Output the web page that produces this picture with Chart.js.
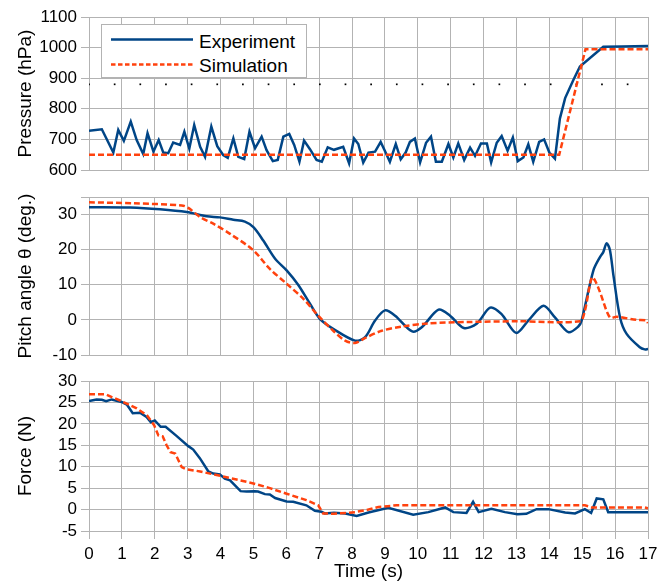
<!DOCTYPE html>
<html>
<head>
<meta charset="utf-8">
<script src="https://cdn.jsdelivr.net/npm/chart.js@4.4.1/dist/chart.umd.min.js"></script>
<style>
    html, body { margin: 0; padding: 0; background: #fff; }
    #wrap { position: relative; width: 670px; height: 587px; font-family: "Liberation Sans", Arial, sans-serif; }
    .panel { position: absolute; left: 0; width: 670px; }
    #legend {
        position: absolute; left: 101px; top: 24px; width: 206px; height: 54px;
        box-sizing: border-box; border: 1px solid #b3b3b3; background: #fff;
    }
    #legend svg { position: absolute; left: 0; top: 0; }
    #legend span { position: absolute; left: 97px; font-size: 19px; line-height: 22px; color: #000; white-space: nowrap; }
</style>
</head>
<body>
<div id="wrap">
    <div class="panel" style="top:0;height:185px"><canvas id="pressureChart" width="670" height="185"></canvas></div>
    <div class="panel" style="top:185px;height:180px"><canvas id="pitchChart" width="670" height="180"></canvas></div>
    <div class="panel" style="top:365px;height:222px"><canvas id="forceChart" width="670" height="222"></canvas></div>
    <div id="legend">
        <svg width="100" height="54">
            <line x1="9" y1="14.5" x2="91" y2="14.5" stroke="#004586" stroke-width="2.5"></line>
            <line x1="9" y1="39.5" x2="91" y2="39.5" stroke="#ff420e" stroke-width="2.5" stroke-dasharray="4.5 2.5"></line>
        </svg>
        <span style="top:6px">Experiment</span>
        <span style="top:30px">Simulation</span>
    </div>
</div>
<script>
// ================================
// DATA  ([time s, value])
// ================================

const timeTicks = [0, 1, 2, 3, 4, 5, 6, 7, 8, 9, 10, 11, 12, 13, 14, 15, 16, 17];

const pressureTicks = [600, 700, 800, 900, 1000, 1100];
const pitchTicks = [-10, 0, 10, 20, 30, 35];
const forceTicks = [-5, 0, 5, 10, 15, 20, 25, 30];

const pressureExp = [
    [0, 728], [0.39, 733], [0.74, 657], [0.89, 731], [1.06, 695], [1.27, 758], [1.45, 698],
    [1.65, 652], [1.78, 720], [1.96, 660], [2.12, 698], [2.26, 657], [2.41, 655], [2.56, 690],
    [2.77, 682], [2.9, 725], [3.05, 670], [3.2, 747], [3.38, 676], [3.53, 643], [3.72, 742],
    [3.9, 678], [4.08, 649], [4.22, 640], [4.39, 703], [4.54, 643], [4.72, 636], [4.88, 725],
    [5.05, 671], [5.25, 709], [5.4, 665], [5.59, 629], [5.74, 633], [5.91, 709], [6.09, 718],
    [6.24, 682], [6.4, 627], [6.54, 696], [6.72, 668], [6.92, 633], [7.08, 627], [7.26, 674],
    [7.45, 666], [7.73, 676], [7.91, 622], [8.06, 703], [8.19, 685], [8.34, 624], [8.5, 657],
    [8.7, 660], [8.87, 692], [9.0, 662], [9.15, 627], [9.33, 685], [9.48, 635], [9.63, 657],
    [9.76, 692], [9.91, 703], [10.07, 625], [10.25, 689], [10.4, 709], [10.55, 627], [10.73, 627],
    [10.93, 685], [11.08, 641], [11.23, 687], [11.41, 633], [11.59, 673], [11.74, 646], [11.92, 687],
    [12.1, 687], [12.23, 625], [12.4, 689], [12.55, 711], [12.73, 663], [12.89, 706], [13.04, 629],
    [13.21, 641], [13.36, 684], [13.51, 627], [13.69, 692], [13.84, 700], [14.0, 657], [14.17, 637],
    [14.32, 768], [14.48, 835], [14.73, 894], [14.93, 938], [15.64, 1003], [16.2, 1004], [17.0, 1005],
];
const pressureSim = [[0, 650], [14.3, 650], [15.1, 995], [17, 995]];
const pressureMarks = [
    [0, 880], [0.78, 880], [1.56, 880], [2.34, 880], [3.12, 880], [3.9, 880], [4.68, 880], [5.46, 880],
    [6.24, 880], [7.02, 880], [7.8, 880], [8.58, 880], [9.36, 880], [10.14, 880], [10.92, 880],
    [11.7, 880], [12.48, 880], [13.26, 880], [14.04, 880], [14.82, 880], [15.6, 880], [16.38, 880],
];

const pitchExp = [
    [0, 32.1], [1.25, 32.0], [2.16, 31.5], [2.97, 30.7], [3.58, 29.5], [3.98, 29.2], [4.39, 28.5],
    [4.74, 28.0], [5.0, 26.4], [5.3, 22.6], [5.66, 17.4], [6.01, 14.1], [6.36, 10.0], [6.72, 4.6],
    [7.02, 0.3], [7.45, -2.7], [8.09, -5.9], [8.39, -5.0], [8.7, -0.2], [9.0, 2.7], [9.31, 1.2],
    [9.83, -3.3], [10.12, -2.1], [10.63, 2.9], [10.98, 1.2], [11.4, -2.3], [11.79, -1.1], [12.2, 3.5],
    [12.54, 1.7], [12.99, -3.7], [13.36, -0.2], [13.82, 4.0], [14.17, 0.7], [14.58, -3.5],
    [14.88, -1.9], [14.98, -0.2], [15.34, 14.1], [15.54, 17.9], [15.64, 19.3], [15.74, 21.8],
    [15.84, 20.0], [15.95, 12.6], [16.15, 0.7], [16.35, -4.0], [16.75, -7.8], [16.9, -8.4], [17.0, -8.3],
];
const pitchSim = [
    [0, 33.5], [1.35, 33.2], [2.82, 32.6], [3.02, 31.9], [3.38, 29.3], [3.78, 27.4], [4.29, 24.5],
    [5.0, 19.8], [5.5, 14.5], [6.01, 10.3], [6.52, 6.0], [6.97, 1.2], [7.45, -3.3], [7.79, -5.9],
    [8.09, -6.6], [8.39, -5.2], [8.9, -3.1], [9.51, -1.9], [10.32, -1.0], [11.54, -0.6], [13.06, -0.4],
    [14.93, -0.4], [15.07, 2.2], [15.29, 12.1], [15.39, 11.2], [15.54, 7.9], [15.84, 0.7], [16.05, 0.9],
    [16.65, 0], [16.96, -0.2], [17.0, -0.9],
];

const forceExp = [
    [0, 25.3], [0.23, 25.7], [0.39, 25.6], [0.52, 25.3], [0.69, 25.7], [0.99, 25.1], [1.15, 24.5],
    [1.33, 22.5], [1.55, 22.6], [1.75, 21.6], [1.88, 20.4], [2.0, 20.8], [2.18, 19.3], [2.33, 19.3],
    [2.66, 17.2], [3.02, 14.8], [3.17, 14.0], [3.37, 12.0], [3.63, 8.9], [3.78, 8.4], [3.98, 8.2],
    [4.13, 7.2], [4.29, 6.8], [4.61, 4.3], [4.79, 4.2], [5.04, 4.3], [5.14, 4.2], [5.35, 3.6],
    [5.5, 3.5], [5.66, 2.7], [6.01, 1.9], [6.21, 1.8], [6.61, 1.0], [6.87, -0.3], [7.07, -0.5],
    [7.17, -0.9], [7.45, -0.75], [7.79, -0.9], [8.14, -1.5], [8.5, -0.7], [9.1, 0.4], [9.86, -1.2],
    [10.32, -0.6], [10.83, 0.5], [11.08, -0.6], [11.48, -0.8], [11.68, 1.8], [11.85, -0.6],
    [12.24, 0.2], [12.65, -0.6], [13.03, -1.1], [13.3, -1.0], [13.61, 0.1], [13.97, 0.1],
    [14.48, -0.7], [14.78, -0.9], [15.08, 0.1], [15.27, -0.8], [15.44, 2.6], [15.64, 2.4],
    [15.79, -0.6], [17.0, -0.6],
];
const forceSim = [
    [0, 26.9], [0.51, 26.9], [0.74, 26.1], [0.99, 25.3], [1.45, 23.6], [1.76, 22.0], [1.98, 19.7],
    [2.11, 17.3], [2.24, 17.1], [2.36, 15.0], [2.48, 13.4], [2.62, 13.1], [2.82, 9.9], [2.96, 9.4],
    [3.38, 8.9], [4.03, 7.8], [5.0, 6.1], [5.5, 5.0], [6.01, 3.7], [6.61, 2.2], [6.97, 1.0],
    [7.12, -0.9], [7.45, -1.0], [8.09, -0.6], [8.5, 0.0], [8.8, 0.6], [9.36, 1.0], [15.08, 1.0],
    [15.29, 0.5], [16.9, 0.5], [17.0, 0.3],
];

// ================================
// STYLE
// ================================

const GRID = "#b3b3b3";
const BLUE = "#004586";
const ORANGE = "#ff420e";

const toXY = (pairs) => pairs.map(([x, y]) => ({ x: x, y: y }));

function expSet(pairs, tension) {
    return {
        data: toXY(pairs),
        borderColor: BLUE,
        borderWidth: 2.5,
        pointRadius: 0,
        tension: tension,
        order: 1,
    };
}

function simSet(pairs, tension) {
    return {
        data: toXY(pairs),
        borderColor: ORANGE,
        borderWidth: 2.5,
        borderDash: [6, 3],
        pointRadius: 0,
        tension: tension,
        order: 0,
    };
}

function makePanel(id, datasets, yMin, yMax, yTicks, hiddenTicks, yTitle, padTop, xHeight, showTime) {
    new Chart(document.getElementById(id), {
        type: "line",
        data: { datasets: datasets },
        options: {
            responsive: false,
            animation: false,
            devicePixelRatio: 1,
            layout: { padding: { top: padTop, right: 22, left: 0, bottom: 0 } },
            plugins: { legend: { display: false }, tooltip: { enabled: false } },
            scales: {
                x: {
                    type: "linear",
                    min: 0,
                    max: 17,
                    afterBuildTicks: (scale) => {
                        scale.ticks = timeTicks.map((v) => ({ value: v }));
                    },
                    afterFit: (scale) => {
                        scale.height = xHeight;
                    },
                    ticks: {
                        display: showTime,
                        autoSkip: false,
                        color: "#000",
                        font: { size: 17 },
                        padding: 5,
                        maxRotation: 0,
                    },
                    grid: { color: GRID, drawTicks: showTime, tickLength: 8 },
                    border: { color: GRID },
                    title: {
                        display: showTime,
                        text: "Time (s)",
                        color: "#000",
                        font: { size: 19 },
                        padding: { top: 0, bottom: 4 },
                    },
                },
                y: {
                    min: yMin,
                    max: yMax,
                    afterBuildTicks: (scale) => {
                        scale.ticks = yTicks.map((v) => ({ value: v }));
                    },
                    afterFit: (scale) => {
                        scale.width = 89;
                        scale.paddingTop = 0;
                        scale.paddingBottom = 0;
                    },
                    ticks: {
                        autoSkip: false,
                        color: "#000",
                        font: { size: 17 },
                        padding: 4,
                        callback: (value) => (hiddenTicks.includes(value) ? "" : String(value)),
                    },
                    grid: { color: GRID, tickLength: 8 },
                    border: { color: GRID },
                    title: {
                        display: true,
                        text: yTitle,
                        color: "#000",
                        font: { size: 19 },
                        padding: { top: 14, bottom: 0 },
                    },
                },
            },
        },
    });
}

Chart.defaults.font.family = '"Liberation Sans", Arial, sans-serif';

// PRESSURE
makePanel(
    "pressureChart",
    [
        expSet(pressureExp, 0),
        simSet(pressureSim, 0),
        {
            data: toXY(pressureMarks),
            showLine: false,
            pointRadius: 1.2,
            pointStyle: "rect",
            pointBackgroundColor: "#000",
            pointBorderWidth: 0,
            order: 2,
        },
    ],
    600, 1100, pressureTicks, [], "Pressure (hPa)", 17, 15, false
);

// PITCH ANGLE
makePanel(
    "pitchChart",
    [expSet(pitchExp, 0.3), simSet(pitchSim, 0.3)],
    -10, 35, pitchTicks, [35], "Pitch angle θ (deg.)", 12, 10, false
);

// FORCE
makePanel(
    "forceChart",
    [expSet(forceExp, 0), simSet(forceSim, 0)],
    -5, 30, forceTicks, [], "Force (N)", 16, 56, true
);
</script>
</body>
</html>
